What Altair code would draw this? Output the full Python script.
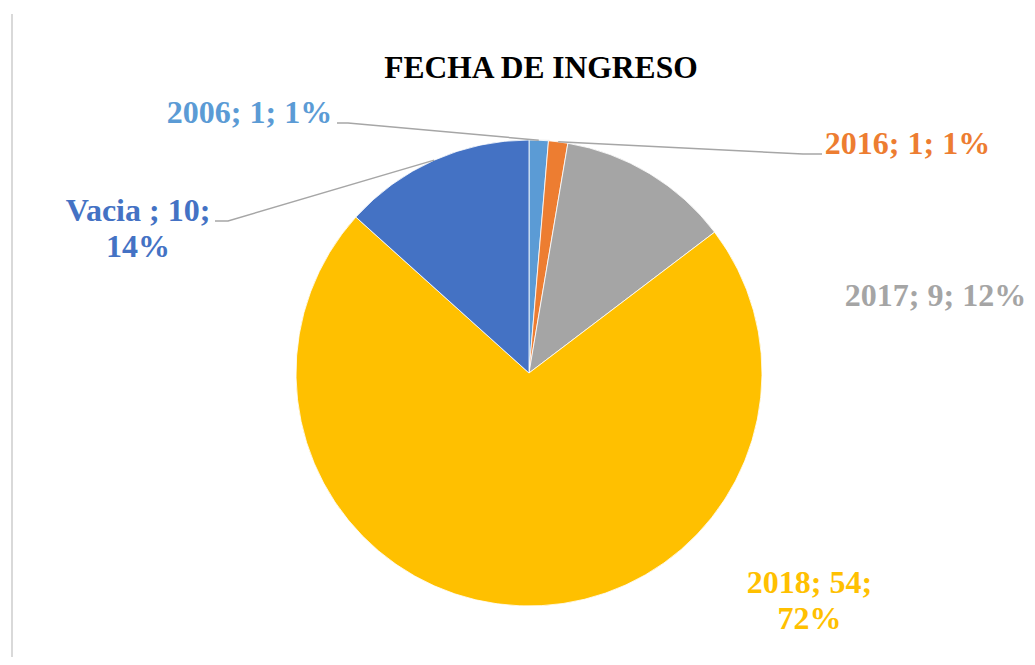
import math
import altair as alt
import pandas as pd

# ---- data ----
categories = ["2006", "2016", "2017", "2018", "Vacia "]
counts = [1, 1, 9, 54, 10]
percents = [1, 1, 12, 72, 14]
colors = ["#5B9BD5", "#ED7D31", "#A5A5A5", "#FFC000", "#4472C4"]
title_text = "FECHA DE INGRESO"

# ---- layout (page pixels) ----
W, H, M = 1019, 649, 8
CX, CY, R = 529, 373, 233
FONT = "Liberation Serif"
# label anchor (center x, first-line baseline y) and line break flag
label_layout = {
    "2006": (249.5, 123, False),
    "2016": (907.5, 154, False),
    "2017": (935.5, 306, False),
    "2018": (809.5, 593, True),
    "Vacia ": (138, 221, True),
}
# leader lines: label end point and elbow point
leaders = {
    "2006": [(337, 123), (348, 123)],
    "2016": [(822, 154), (803, 154)],
    "Vacia ": [(215, 221), (228, 221)],
}

total = sum(counts)
pie = pd.DataFrame({"cat": categories, "count": counts, "order": range(len(categories))})

# label texts
rows = []
for c, n, p in zip(categories, counts, percents):
    x, y, brk = label_layout[c]
    sep = "\n" if brk else " "
    rows.append({"cat": c, "x": x, "y": y, "text": f"{c}; {n};{sep}{p}%"})
labels = pd.DataFrame(rows)

# leader lines, anchored at slice mid-angles computed from the data
line_rows = []
cum = 0
for c, n in zip(categories, counts):
    mid = (cum + n / 2) / total * 2 * math.pi
    cum += n
    if c in leaders:
        ax = CX + R * math.sin(mid)
        ay = CY - R * math.cos(mid)
        pts = leaders[c] + [(ax, ay)]
        for i, (px, py) in enumerate(pts):
            line_rows.append({"cat": c, "i": i, "x": px, "y": py})
lines = pd.DataFrame(line_rows)

xs = alt.Scale(domain=[M, M + W], range=[0, W], nice=False, zero=False)
ys = alt.Scale(domain=[M, M + H], range=[0, H], nice=False, zero=False)
cscale = alt.Scale(domain=categories, range=colors)

shadow = alt.Chart(pd.DataFrame({"v": [1]})).mark_arc(
    outerRadius=R + 3, color="#000000", opacity=0.05
).encode(theta=alt.Theta("v:Q"), x=alt.value(CX - M + 1), y=alt.value(CY - M + 2))

arcs = alt.Chart(pie).mark_arc(outerRadius=R, stroke="white", strokeWidth=0.8).encode(
    theta=alt.Theta("count:Q", stack=True),
    order=alt.Order("order:Q"),
    color=alt.Color("cat:N", scale=cscale, legend=None),
    x=alt.value(CX - M),
    y=alt.value(CY - M),
)

leader_lines = alt.Chart(lines).mark_line(color="#A6A6A6", strokeWidth=1.5).encode(
    x=alt.X("x:Q", scale=xs, axis=None),
    y=alt.Y("y:Q", scale=ys, axis=None),
    detail="cat:N",
    order="i:Q",
)

label_text = alt.Chart(labels).mark_text(
    font=FONT, fontSize=32, fontWeight="bold", align="center",
    baseline="alphabetic", lineBreak="\n", lineHeight=36,
).encode(
    x=alt.X("x:Q", scale=xs, axis=None),
    y=alt.Y("y:Q", scale=ys, axis=None),
    text="text:N",
    color=alt.Color("cat:N", scale=cscale, legend=None),
)

title = alt.Chart(pd.DataFrame({"t": [title_text], "x": [541], "y": [78]})).mark_text(
    font=FONT, fontSize=31.5, fontWeight="bold", align="center",
    baseline="alphabetic", color="black",
).encode(
    x=alt.X("x:Q", scale=xs, axis=None),
    y=alt.Y("y:Q", scale=ys, axis=None),
    text="t:N",
)

border = alt.Chart(pd.DataFrame({"v": [0]})).mark_rule(color="#D9D9D9", strokeWidth=2).encode(
    x=alt.value(12 - M), y=alt.value(14 - M), y2=alt.value(H)
)

chart = alt.layer(border, shadow, arcs, leader_lines, label_text, title).properties(
    width=W, height=H, padding=0, autosize=alt.AutoSizeParams(type="none"),
    background="white",
).configure_view(stroke=None)

chart.save("out.html", embed_options={"renderer": "svg", "actions": False})
